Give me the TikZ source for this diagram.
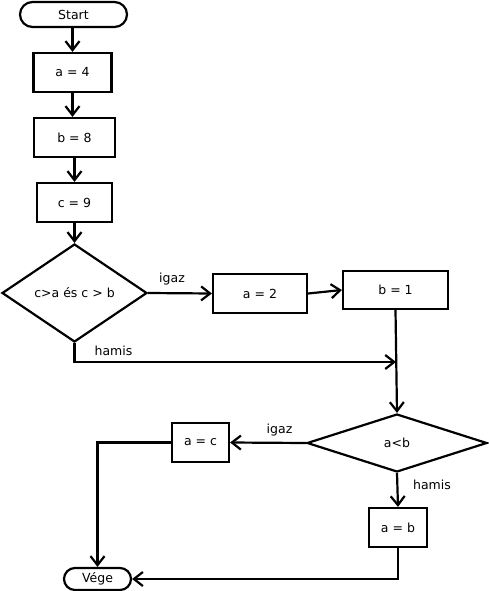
\documentclass[tikz,border=0pt]{standalone}
\usepackage{fontspec}
\setmainfont{DejaVu Sans}
\usetikzlibrary{shapes.geometric,arrows.meta}
\begin{document}
\begin{tikzpicture}[x=1pt,y=-1pt,
  every node/.style={font=\fontsize{12.5}{14}\selectfont},
  base/.style={draw=black,line width=2.2pt,inner sep=0pt,anchor=center},
  procbox/.style={base,rectangle},
  termbox/.style={base,rectangle,rounded corners=11pt},
  decbox/.style={base,diamond},
  flow/.style={line width=2.2pt,-{Straight Barb[length=9pt,width=14pt,line width=2.2pt]}},
  lbl/.style={inner sep=0pt,anchor=center}]
\useasboundingbox (0,0) rectangle (488,591);
\node[termbox,minimum width=107pt,minimum height=25pt,rounded corners=12.5pt] (start) at (73.5,14.5) {Start};
\node[procbox,minimum width=78pt,minimum height=39pt] (a4) at (72.5,72.5) {a = 4};
\node[procbox,minimum width=81pt,minimum height=39pt] (b8) at (74.5,137.5) {b = 8};
\node[procbox,minimum width=75pt,minimum height=39pt] (c9) at (74.5,202.5) {c = 9};
\node[decbox,minimum width=145pt,minimum height=98pt] (d1) at (74.5,293) {c>a és c > b};
\node[procbox,minimum width=94pt,minimum height=39pt] (a2) at (260,293.5) {a = 2};
\node[procbox,minimum width=105pt,minimum height=38pt] (b1) at (395.5,290) {b = 1};
\node[decbox,minimum width=180pt,minimum height=58pt] (d2) at (397,443) {a<b};
\node[procbox,minimum width=57pt,minimum height=39pt] (ac) at (200.5,442.5) {a = c};
\node[procbox,minimum width=58pt,minimum height=39pt] (ab) at (398,527.5) {a = b};
\node[termbox,minimum width=67pt,minimum height=22pt] (vege) at (97.5,579) {Vége};
\coordinate (j) at (396,362);
\coordinate (k) at (74.5,362);
\node[lbl] (l1) at (172,279) {igaz};
\node[lbl] (l2) at (113.5,351) {hamis};
\node[lbl] (l3) at (279.5,430) {igaz};
\node[lbl] (l4) at (432,485) {hamis};
\draw[flow] (a4.north |- start.south) -- (a4.north);
\draw[flow] (a4.south) -- (a4.south |- b8.north);
\draw[flow] (b8.south) -- (b8.south |- c9.north);
\draw[flow] (c9.south) -- (d1.north);
\draw[flow] (d1.east) -- (a2.west);
\draw[flow] (a2.east) -- (b1.west);
\draw[flow] (b1.south) -- (d2.north);
\draw[flow] (d1.south) -- (k) -- (j);
\draw[flow] (d2.west) -- (ac.east);
\draw[flow] (d2.south) -- (ab.north);
\draw[flow] (ac.west) -| (vege.north);
\draw[flow] (ab.south) |- (vege.east);
\end{tikzpicture}
\end{document}
